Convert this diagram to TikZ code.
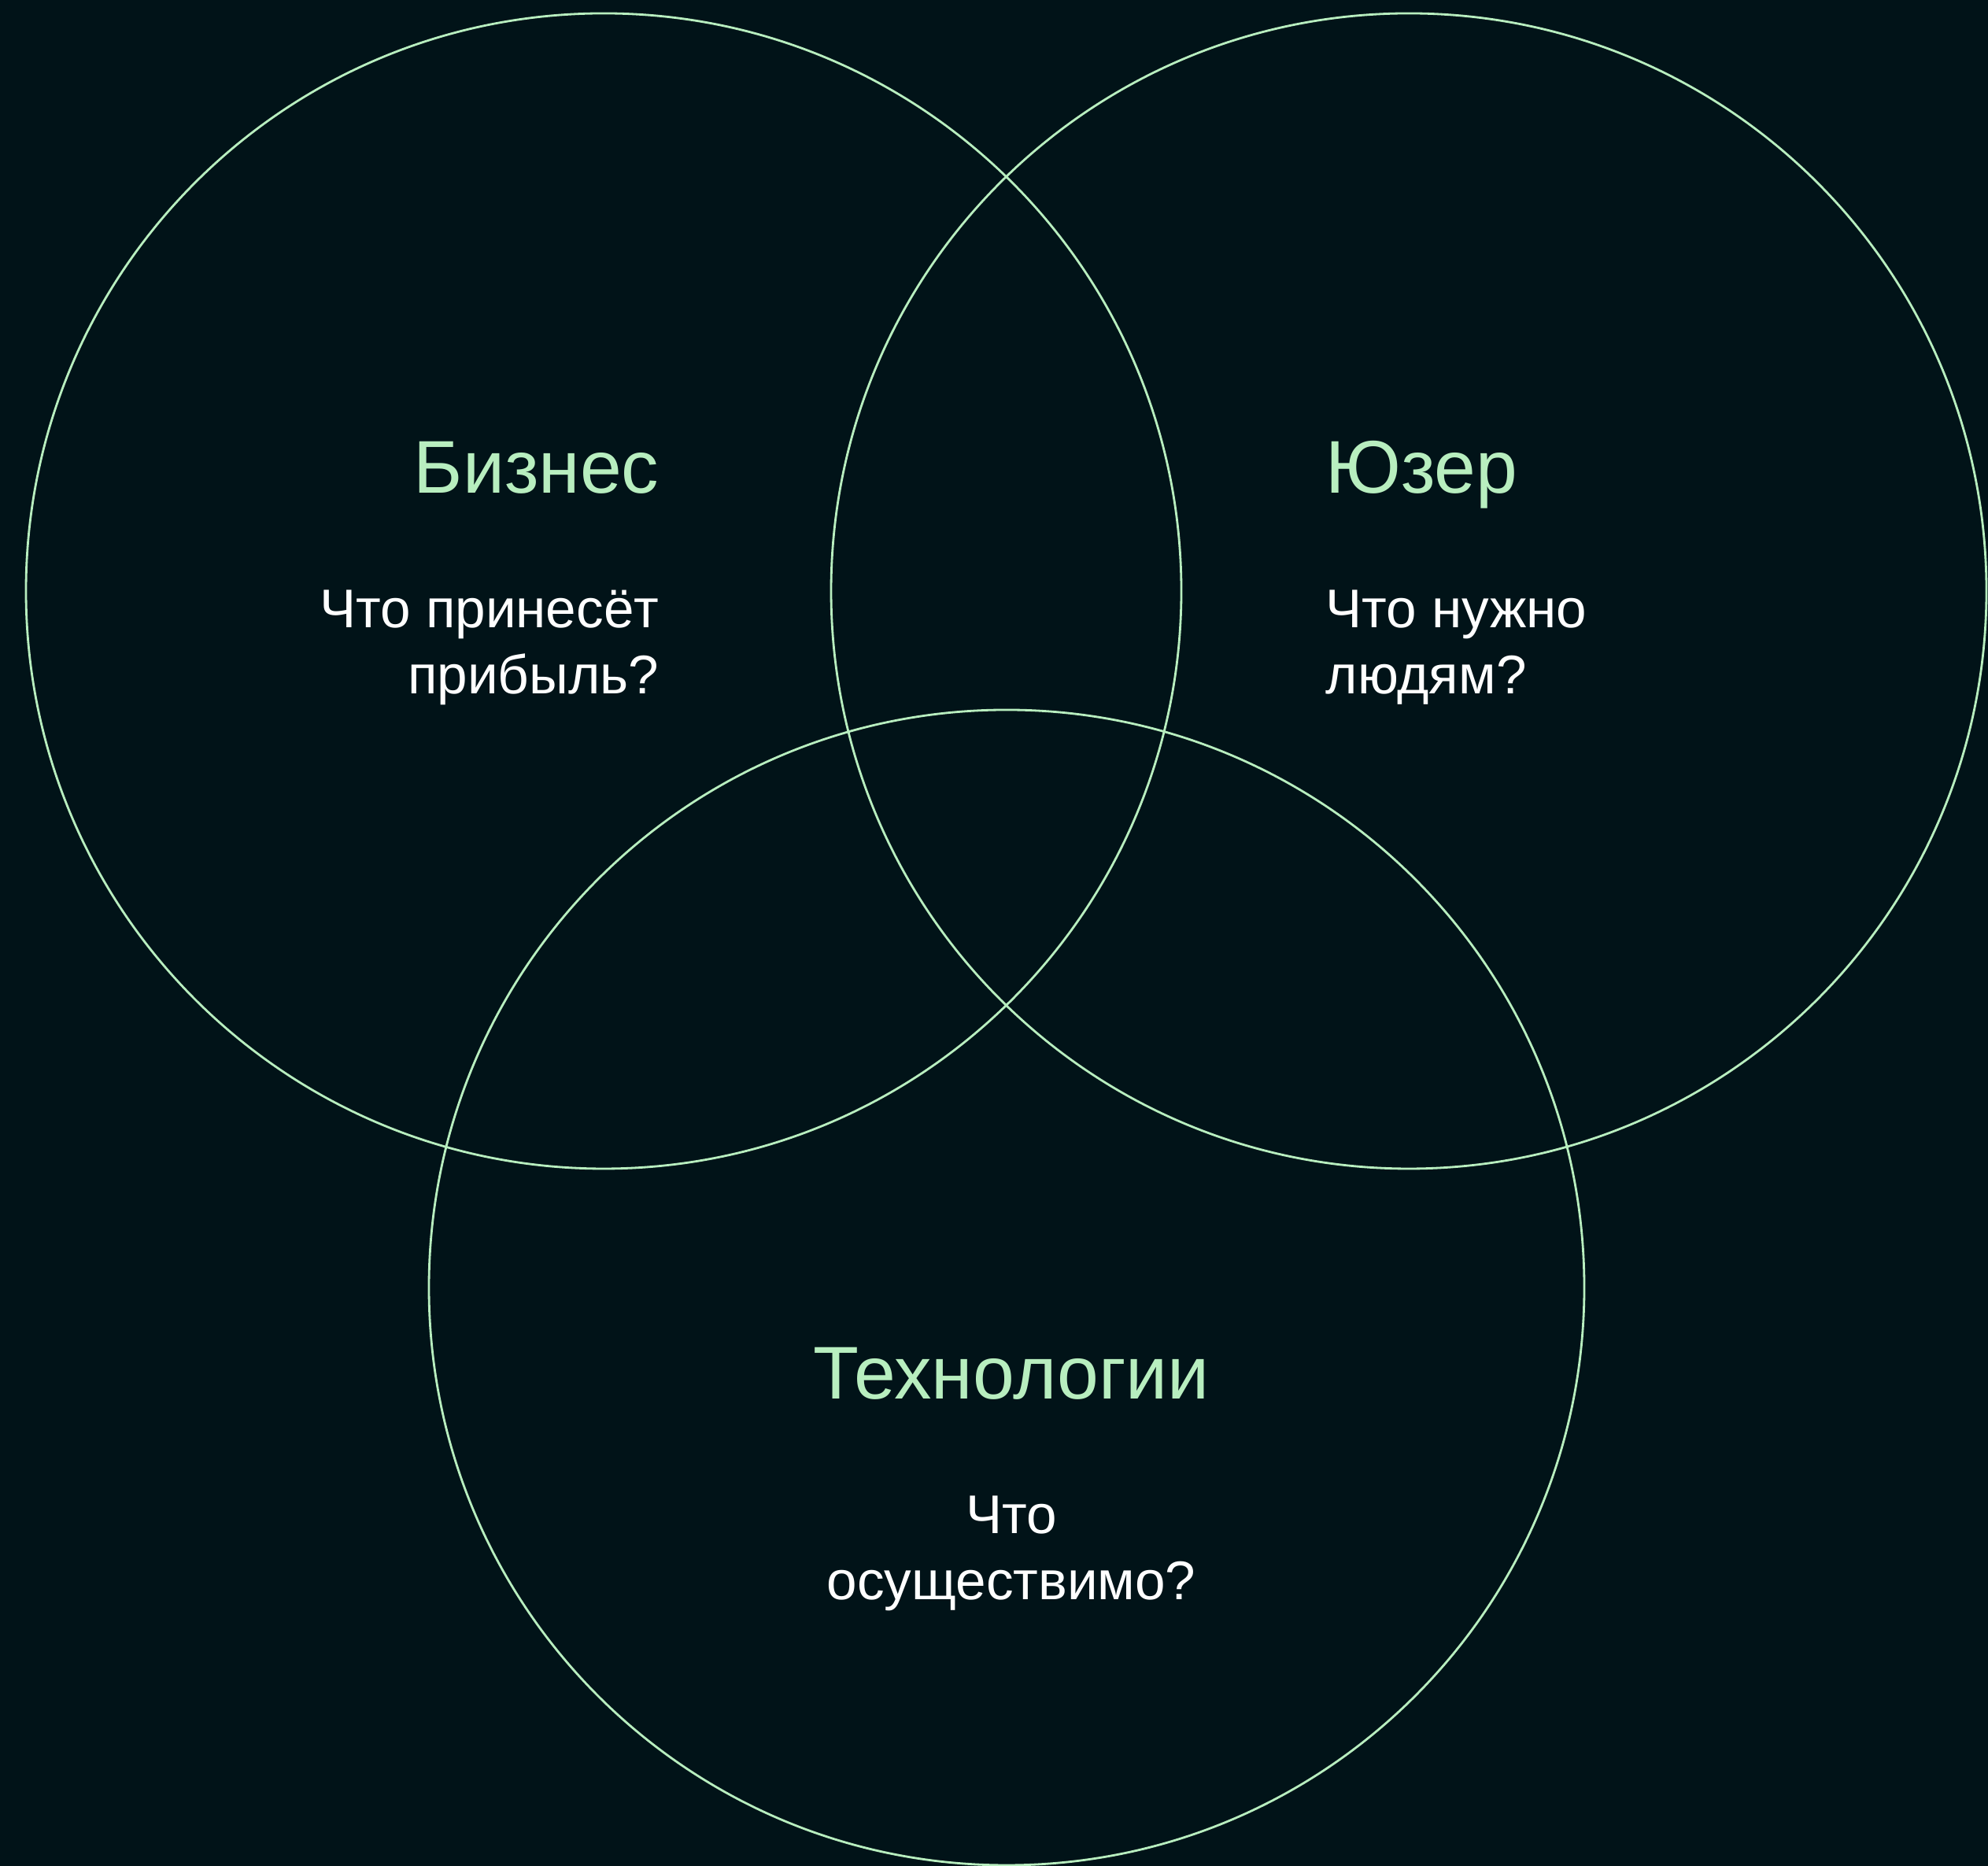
\documentclass[tikz,border=0pt]{standalone}
\usepackage{fontspec}
\setmainfont{Liberation Sans}
\usepackage{xcolor}
\usetikzlibrary{positioning}
\definecolor{Night}{HTML}{011318}
\definecolor{Mint}{HTML}{B8EEBF}
\definecolor{Snow}{HTML}{FFFFFF}

\begin{document}
\begin{tikzpicture}[ring/.style={circle,draw=Mint,line width=0.8pt,minimum size=14.68cm,inner sep=0pt}, title/.style={text=Mint,inner sep=0pt,font=\fontsize{27}{33}\selectfont}, ask/.style={text=Snow,inner sep=0pt,font=\fontsize{19.7}{24.1}\selectfont}]
\fill[Night] (0,0) rectangle (25.26,23.71);
\useasboundingbox (0,0) rectangle (25.26,23.71);
\node[ring] (biz) at (7.67,16.20) {};
\node[ring] (user) at (17.90,16.20) {};
\node[ring] (tech) at (12.79,7.35) {};
\node[title,anchor=base east] (bizT) at (8.38,17.44) {Бизнес};
\node[ask,anchor=base east,align=right] (bizQ) at (8.38,14.89) {Что принесёт\\прибыль?};
\node[title,anchor=base west] (userT) at (16.84,17.44) {Юзер};
\node[ask,anchor=base west,align=left] (userQ) at (16.84,14.89) {Что нужно\\людям?};
\node[title,anchor=base] (techT) at (12.85,5.93) {Технологии};
\node[ask,anchor=base,align=center] (techQ) at (12.85,3.38) {Что\\осуществимо?};
\end{tikzpicture}
\end{document}
